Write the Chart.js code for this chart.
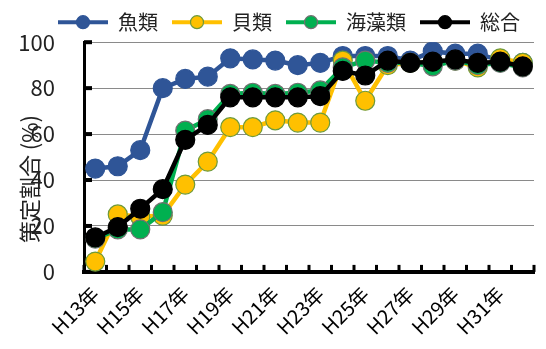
<!DOCTYPE html>
<html>
<head>
<meta charset="utf-8">
<script src="https://cdn.jsdelivr.net/npm/chart.js@4"></script>
<style>
  body { margin: 0; background: #fff; }
  #wrap { width: 546px; height: 349px; }
</style>
</head>
<body>
<div id="wrap"><canvas id="c" width="546" height="349"></canvas></div>
<script>
const years = ['H13年','H14年','H15年','H16年','H17年','H18年','H19年','H20年','H21年','H22年',
               'H23年','H24年','H25年','H26年','H27年','H28年','H29年','H30年','H31年','H32年'];
const seriesNames = ['魚類', '貝類', '海藻類', '総合'];
const fish    = [45, 46, 53, 80, 84, 85, 93, 92.5, 92, 90, 91, 94, 94, 94, 92, 96, 95, 95, 92, 91];
const shell   = [4.5, 25, 24, 24.5, 38, 48, 63, 63, 66, 65, 65, 92, 74.5, 90, 91, 91, 92, 89, 93, 91];
const seaweed = [14.5, 18.5, 18.5, 26, 61.5, 66.5, 77.5, 78, 77.5, 78, 79, 89, 92, 91, 91, 89.5, 92, 90, 91, 89];
const total   = [15, 19.5, 27.5, 36, 57.5, 64, 76, 76, 76, 76, 76.5, 87.5, 85.5, 92, 91, 91.5, 92.5, 91, 91.5, 89.5];
const yTicks  = [0, 20, 40, 60, 80, 100];

const FONT = '"Noto Sans CJK JP", "Noto Sans", sans-serif';

const styles = [
  { line: '#2F5597', fill: '#2F5597', border: '#2F5597', order: 3 },
  { line: '#FFC000', fill: '#FFC000', border: '#6E9A3A', order: 2 },
  { line: '#00B050', fill: '#00B050', border: '#707070', order: 1 },
  { line: '#000000', fill: '#000000', border: '#000000', order: 0 }
];
const values = [fish, shell, seaweed, total];

const datasets = values.map((v, i) => ({
  label: seriesNames[i],
  data: v,
  borderColor: styles[i].line,
  backgroundColor: styles[i].line,
  borderWidth: 4.5,
  pointRadius: 9.5,
  pointHoverRadius: 9.5,
  pointBackgroundColor: styles[i].fill,
  pointBorderColor: styles[i].border,
  pointBorderWidth: 1.2,
  order: styles[i].order,
  tension: 0
}));

// small inner tick marks on both axes
const innerTicks = {
  id: 'innerTicks',
  beforeDatasetsDraw(chart) {
    const ctx = chart.ctx;
    const x = chart.scales.x, y = chart.scales.y;
    ctx.save();
    ctx.fillStyle = '#000';
    yTicks.forEach(t => {
      const py = y.getPixelForValue(t);
      ctx.fillRect(x.left, py - 2, 8, 4);
    });
    const step = x.getPixelForValue(1) - x.getPixelForValue(0);
    for (let i = 0; i <= years.length; i++) {
      const px = x.getPixelForValue(0) - step / 2 + i * step;
      ctx.fillRect(px - 1.5, y.bottom - 7, 3, 7);
    }
    ctx.restore();
  }
};

// marker circle in the middle of each legend line
const legendDots = {
  id: 'legendDots',
  afterDraw(chart) {
    const lg = chart.legend;
    if (!lg || !lg.legendHitBoxes) return;
    const ctx = chart.ctx;
    const bw = lg.options.labels.boxWidth;
    lg.legendHitBoxes.forEach((hb, i) => {
      const s = styles[i];
      ctx.save();
      ctx.beginPath();
      ctx.arc(hb.left + bw / 2, hb.top + hb.height / 2, 6.5, 0, Math.PI * 2);
      ctx.fillStyle = s.fill;
      ctx.fill();
      ctx.lineWidth = 1.2;
      ctx.strokeStyle = s.border;
      ctx.stroke();
      ctx.restore();
    });
  }
};

new Chart(document.getElementById('c'), {
  type: 'line',
  data: { labels: years, datasets: datasets },
  options: {
    responsive: false,
    animation: false,
    layout: { padding: { left: 0, right: 12, top: -18, bottom: 0 } },
    plugins: {
      legend: {
        position: 'top',
        align: 'end',
        labels: {
          font: { family: FONT, size: 20 },
          color: '#222',
          boxWidth: 50,
          boxHeight: 4,
          padding: 14,
          generateLabels(chart) {
            return chart.data.datasets.map((d, i) => ({
              text: d.label,
              fillStyle: styles[i].line,
              strokeStyle: styles[i].line,
              lineWidth: 0,
              hidden: false,
              datasetIndex: i,
              fontColor: '#222'
            }));
          }
        }
      },
      tooltip: { enabled: false }
    },
    scales: {
      x: {
        offset: true,
        grid: { display: false, drawTicks: false },
        border: { color: '#000', width: 4 },
        afterFit: s => { s.paddingLeft = 0; s.paddingRight = 0; },
        ticks: {
          autoSkip: false,
          maxRotation: 45,
          minRotation: 45,
          padding: 10,
          color: '#000',
          font: { family: FONT, size: 20 },
          callback: (v, i) => (i % 2 === 0 ? years[i] : '')
        }
      },
      y: {
        min: 0,
        max: 100,
        afterBuildTicks: s => { s.ticks = yTicks.map(v => ({ value: v })); },
        afterFit: s => { s.width = 84; },
        grid: {
          display: true,
          drawTicks: false,
          lineWidth: 1,
          color: ctx => (ctx.tick && ctx.tick.value === 0 ? 'rgba(0,0,0,0)' : '#8a8a8a')
        },
        border: { color: '#000', width: 3 },
        ticks: {
          padding: 29,
          color: '#222',
          font: { family: FONT, size: 22 }
        },
        title: {
          display: true,
          text: '策定割合 (%)\u3000\u3000',
          color: '#222',
          font: { family: FONT, size: 22 },
          padding: { top: 16, bottom: -26 }
        }
      }
    }
  },
  plugins: [innerTicks, legendDots]
});
</script>
</body>
</html>
